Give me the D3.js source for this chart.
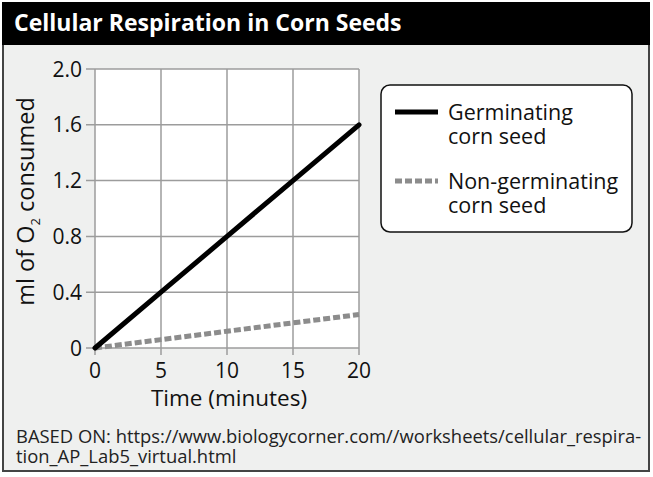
<!DOCTYPE html>
<html>
<head>
<meta charset="utf-8">
<script src="https://cdn.jsdelivr.net/npm/d3@7"></script>
<style>
  body { margin: 0; background: #fff; overflow: hidden; }
  svg { display: block; }
  text { font-variant-ligatures: none; }
</style>
</head>
<body>
<svg id="svgx"></svg>
<script>
// ---- data
var times = [0, 5, 10, 15, 20];
var germinating = [0, 0.4, 0.8, 1.2, 1.6];
var nonGerminating = [0, 0.06, 0.12, 0.18, 0.24];
var yTicks = [0, 0.4, 0.8, 1.2, 1.6, 2.0];
var xTicks = [0, 5, 10, 15, 20];
var legendLabels = [["Germinating", "corn seed"], ["Non-germinating", "corn seed"]];
var title = "Cellular Respiration in Corn Seeds";
var source = ["BASED ON: https://www.biologycorner.com//worksheets/cellular_respira-",
              "tion_AP_Lab5_virtual.html"];

var W = 653, H = 477;
var font = "'Open Sans', Lato, sans-serif";
var svg = d3.select('#svgx').attr('width', W).attr('height', H);

// frame + body
svg.append('rect').attr('x', 3).attr('y', 3).attr('width', 646).attr('height', 468)
  .attr('fill', '#eff0ef').attr('stroke', '#444').attr('stroke-width', 2);
svg.append('rect').attr('x', 2).attr('y', 2).attr('width', 648).attr('height', 43)
  .attr('fill', '#000');
svg.append('text').attr('x', 14).attr('y', 31).text(title)
  .style('fill', '#fff').style('font-weight', 700).style('font-size', '23px')
  .style('font-family', font);

// plot
var margin = { left: 95, top: 69 };
var innerWidth = 264, innerHeight = 279;
var g = svg.append('g').attr('transform', `translate(${margin.left},${margin.top})`);

var xScale = d3.scaleLinear().domain([0, 20]).range([0, innerWidth]);
var yScale = d3.scaleLinear().domain([0, 2]).range([innerHeight, 0]);

g.append('rect').attr('width', innerWidth).attr('height', innerHeight).attr('fill', '#fff');

// grid (extends past the plot like tick marks)
g.selectAll('.vgrid').data(xTicks).enter().append('line')
  .attr('x1', d => xScale(d)).attr('x2', d => xScale(d))
  .attr('y1', 0).attr('y2', innerHeight + 7)
  .attr('stroke', '#9c9c9c').attr('stroke-width', 1.5);
g.selectAll('.hgrid').data(yTicks).enter().append('line')
  .attr('x1', -9).attr('x2', innerWidth)
  .attr('y1', d => yScale(d)).attr('y2', d => yScale(d))
  .attr('stroke', '#9c9c9c').attr('stroke-width', 1.5);

// tick labels
g.selectAll('.ylab').data(yTicks).enter().append('text')
  .attr('x', -13).attr('y', d => yScale(d)).attr('dy', '0.36em')
  .attr('text-anchor', 'end')
  .text(d => d === 0 ? '0' : d.toFixed(1))
  .style('font-size', '21px').style('font-family', font).style('fill', '#111');
g.selectAll('.xlab').data(xTicks).enter().append('text')
  .attr('x', d => xScale(d)).attr('y', innerHeight + 30)
  .attr('text-anchor', 'middle')
  .text(d => d)
  .style('font-size', '21px').style('font-family', font).style('fill', '#111');

// axis titles
g.append('text').attr('x', 134).attr('y', innerHeight + 58)
  .attr('text-anchor', 'middle').text('Time (minutes)')
  .style('font-size', '22.5px').style('font-family', font).style('fill', '#111');
var yt = g.append('text')
  .attr('transform', `translate(-61,${innerHeight / 2 - 7}) rotate(-90)`)
  .attr('text-anchor', 'middle')
  .style('font-size', '23.5px').style('font-family', font).style('fill', '#111');
yt.append('tspan').text('ml of O');
yt.append('tspan').text('2').attr('dy', 6).style('font-size', '13px');
yt.append('tspan').text(' consumed').attr('dy', -6);

// lines
var line = d3.line().x((d, i) => xScale(times[i])).y(d => yScale(d));
g.append('path').datum(nonGerminating).attr('d', line)
  .attr('fill', 'none').attr('stroke', '#8c8c8c').attr('stroke-width', 5)
  .attr('stroke-dasharray', '7,3');
g.append('path').datum(germinating).attr('d', line)
  .attr('fill', 'none').attr('stroke', '#000').attr('stroke-width', 5)
  .attr('stroke-linecap', 'round');

// legend
var lg = svg.append('g').attr('transform', 'translate(381,85)');
lg.append('rect').attr('width', 251).attr('height', 147).attr('rx', 9)
  .attr('fill', '#fff').attr('stroke', '#111').attr('stroke-width', 1.5);
var styles = [{ c: '#000', dash: null }, { c: '#8c8c8c', dash: '7,3' }];
var item = lg.selectAll('.legend').data(legendLabels).enter().append('g')
  .attr('transform', (d, i) => `translate(0,${i * 69})`);
item.append('line').attr('x1', 14).attr('x2', 57).attr('y1', 27).attr('y2', 27)
  .attr('stroke', (d, i) => styles[i].c).attr('stroke-width', 5)
  .attr('stroke-dasharray', (d, i) => styles[i].dash);
item.append('text').attr('x', 67).attr('y', 35).text(d => d[0])
  .style('font-size', '21.5px').style('font-family', font).style('fill', '#111');
item.append('text').attr('x', 67).attr('y', 59).text(d => d[1])
  .style('font-size', '21.5px').style('font-family', font).style('fill', '#111');

// source
svg.selectAll('.src').data(source).enter().append('text')
  .attr('x', 16).attr('y', (d, i) => 443 + i * 20).text(d => d)
  .style('font-size', '18.4px').style('font-family', font).style('fill', '#222');
</script>
</body>
</html>
